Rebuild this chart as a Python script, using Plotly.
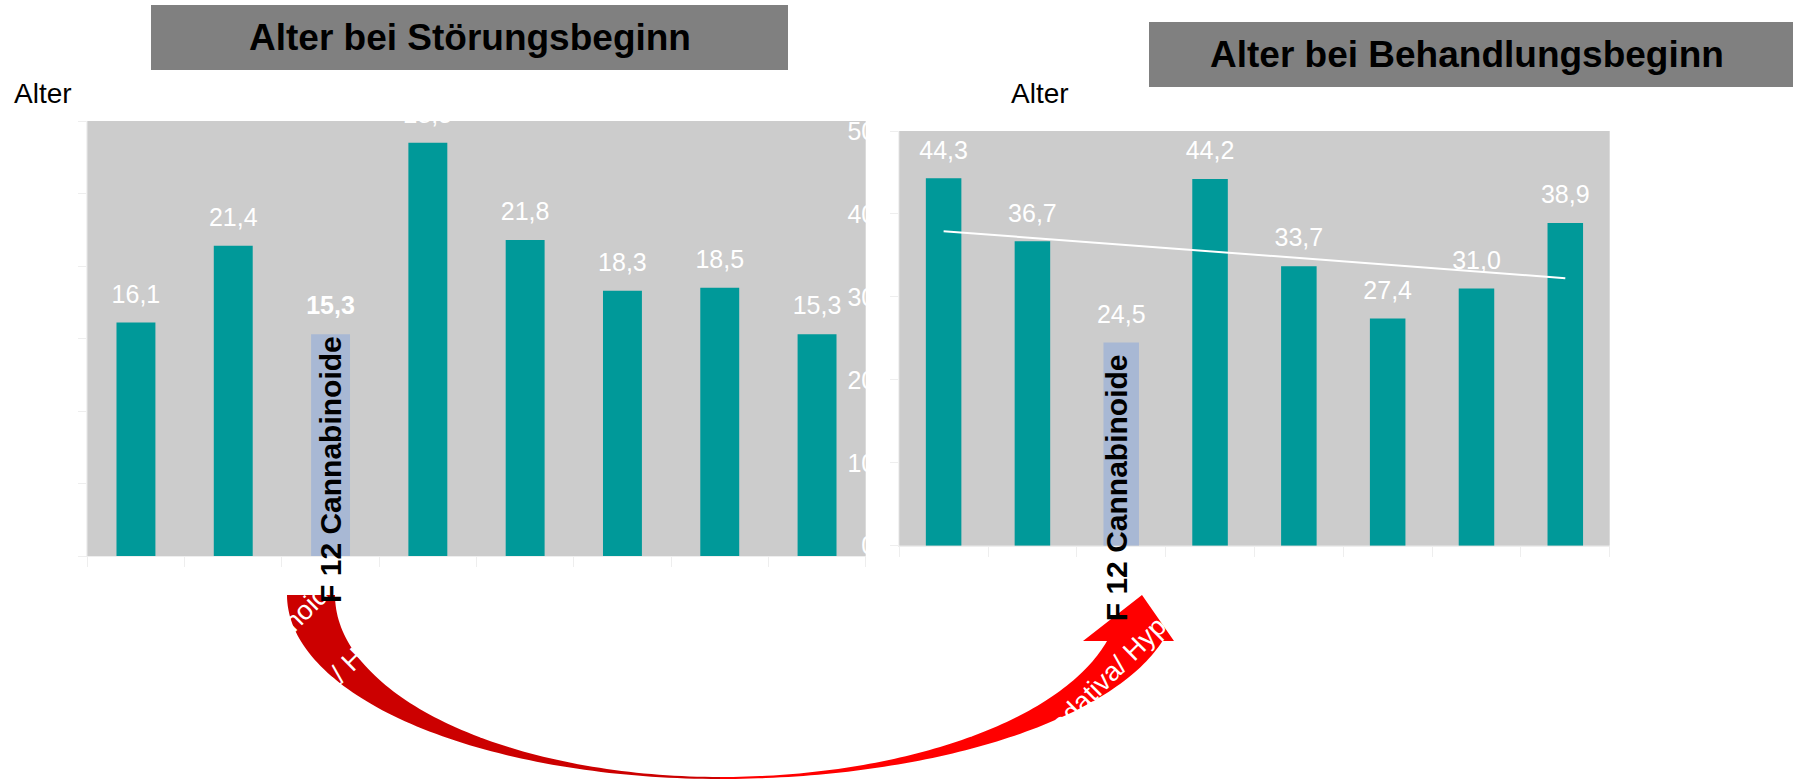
import numpy as np
import plotly.graph_objects as go

# ---------------------------------------------------------------- data
categories = [
    "F 10 Alkohol",
    "F 11 Opioide",
    "F 12 Cannabinoide",
    "F 13 Sedativa/ Hypnotika",
    "F 14 Kokain",
    "F 15 Stimulanzien",
    "F 16 Halluzinogene",
    "F 17 Tabak",
]
highlight = "F 12 Cannabinoide"

onset_age = [16.1, 21.4, 15.3, 28.5, 21.8, 18.3, 18.5, 15.3]        # Alter bei Störungsbeginn
treatment_age = [44.3, 36.7, 24.5, 44.2, 33.7, 27.4, 31.0, 38.9]    # Alter bei Behandlungsbeginn

left_ticks = [0, 5, 10, 15, 20, 25, 30]
right_ticks = [0, 10, 20, 30, 40, 50]

title_left = "Alter bei Störungsbeginn"
title_right = "Alter bei Behandlungsbeginn"
axis_caption = "Alter"

# ---------------------------------------------------------------- style
W, H = 1793, 780
FONT = "Liberation Sans, Arial, Helvetica, sans-serif"
TEAL = "#009999"
HILITE = "#A8B8D4"
PLOT_BG = "#CCCCCC"
TITLE_BG = "#808080"
FAINT = "#EEEEEE"

# plot areas in pixels: (left, right, top, bottom)
LEFT_AREA = (87.3, 865.7, 121.0, 556.0)
RIGHT_AREA = (899.2, 1609.7, 131.0, 545.7)
LABEL_GAP_PX = 26


def fx(px):
    return px / W


def fy(py):
    return 1 - py / H


def fmt(v):
    return f"{v:.1f}".replace(".", ",")


fig = go.Figure()


def add_chart(values, xa, ya, area, yrange, bold_highlight):
    colors = [HILITE if c == highlight else TEAL for c in categories]
    fig.add_trace(go.Bar(
        x=categories, y=values, marker=dict(color=colors, line=dict(width=0)),
        xaxis=xa, yaxis=ya, hoverinfo="skip",
    ))
    units_per_px = (yrange[1] - yrange[0]) / (area[3] - area[2])
    texts = [f"<b>{fmt(v)}</b>" if (c == highlight and bold_highlight) else fmt(v)
             for c, v in zip(categories, values)]
    fig.add_trace(go.Scatter(
        x=categories, y=[v + LABEL_GAP_PX * units_per_px for v in values],
        mode="text", text=texts, textposition="middle center",
        textfont=dict(family=FONT, size=25, color="white"),
        cliponaxis=True, xaxis=xa, yaxis=ya, hoverinfo="skip",
    ))


add_chart(onset_age, "x", "y", LEFT_AREA, (0, 30), True)
add_chart(treatment_age, "x2", "y2", RIGHT_AREA, (0, 50), False)

# linear trend over the treatment ages
pos = np.arange(len(treatment_age))
slope, intercept = np.polyfit(pos, treatment_age, 1)
fig.add_trace(go.Scatter(
    x=[categories[0], categories[-1]],
    y=[intercept, intercept + slope * pos[-1]],
    mode="lines", line=dict(color="white", width=2),
    xaxis="x2", yaxis="y2", hoverinfo="skip",
))


def xaxis(area, anchor):
    return dict(
        domain=[fx(area[0]), fx(area[1])], type="category",
        range=[-0.5, len(categories) - 0.5], anchor=anchor, automargin=False,
        showticklabels=False, ticks="outside", tickson="boundaries",
        ticklen=10, tickcolor=FAINT, showline=True, linecolor=FAINT,
        showgrid=False, zeroline=False, fixedrange=True,
    )


def yaxis(area, rng, ticks, anchor):
    return dict(
        domain=[fy(area[3]), fy(area[2])], range=list(rng), tickvals=ticks,
        ticks="outside", ticklen=8, tickcolor=FAINT, showline=True,
        linecolor="#F2F2F2", showgrid=False, zeroline=False, automargin=False,
        tickfont=dict(family=FONT, size=25, color="white"),
        ticklabelstandoff=10, anchor=anchor, fixedrange=True,
    )


shapes = []
annotations = []

# title boxes
for (x0, x1, y0, y1), text, cx, cy in [
    ((151, 788, 5, 70), title_left, 469.5, 37.5),
    ((1149, 1800, 22, 87), title_right, 1467, 55),
]:
    shapes.append(dict(type="rect", xref="paper", yref="paper",
                       x0=fx(x0), x1=fx(x1), y0=fy(y1), y1=fy(y0),
                       fillcolor=TITLE_BG, line=dict(width=0), layer="above"))
    annotations.append(dict(text=f"<b>{text}</b>", xref="paper", yref="paper",
                            x=fx(cx), y=fy(cy), xanchor="center", yanchor="middle",
                            showarrow=False, font=dict(family=FONT, size=37, color="black")))

for x in (11.5, 1009.3):
    annotations.append(dict(text=axis_caption, xref="paper", yref="paper",
                            x=fx(x), y=fy(93.3), xanchor="left", yanchor="middle",
                            showarrow=False, font=dict(family=FONT, size=28, color="black")))

# curved arrow linking the two charts
ARROW_CX, ARROW_TOP = 720.0, 595.0
INNER_B, OUTER_B = 182.0, 184.0
INNER_A_L, OUTER_A_L = 385.0, 433.0
INNER_A_R, OUTER_A_R = 400.0, 457.0
HEAD_BASE_Y, HEAD_TIP, HEAD_L, HEAD_R = 641.0, (1142.0, 595.0), 1083.0, 1174.0


def path(points):
    return "M " + " L ".join(f"{fx(x):.5f},{fy(y):.5f}" for x, y in points) + " Z"


t = np.linspace(0, np.pi / 2, 80)
left_pts = [(ARROW_CX - OUTER_A_L * np.cos(a), ARROW_TOP + OUTER_B * np.sin(a)) for a in t]
left_pts += [(ARROW_CX - INNER_A_L * np.cos(a), ARROW_TOP + INNER_B * np.sin(a)) for a in t[::-1]]

t_o = np.linspace(np.pi / 2, np.arcsin((HEAD_BASE_Y - ARROW_TOP) / OUTER_B), 80)
t_i = np.linspace(np.arcsin((HEAD_BASE_Y - ARROW_TOP) / INNER_B), np.pi / 2, 80)
right_pts = [(ARROW_CX + OUTER_A_R * np.cos(a), ARROW_TOP + OUTER_B * np.sin(a)) for a in t_o]
right_pts += [(HEAD_R, HEAD_BASE_Y), HEAD_TIP, (HEAD_L, HEAD_BASE_Y)]
right_pts += [(ARROW_CX + INNER_A_R * np.cos(a), ARROW_TOP + INNER_B * np.sin(a)) for a in t_i]

shapes.append(dict(type="path", xref="paper", yref="paper", path=path(left_pts),
                   fillcolor="#CC0000", line=dict(width=0), layer="above"))
shapes.append(dict(type="path", xref="paper", yref="paper", path=path(right_pts),
                   fillcolor="#FF0000", line=dict(width=0), layer="above"))

# category names, white and slanted under each axis
for xa, area in (("x", LEFT_AREA), ("x2", RIGHT_AREA)):
    for c in categories:
        annotations.append(dict(text=c, xref=xa, yref="paper", x=c, y=fy(area[3] + 11),
                                xshift=17, xanchor="right", yanchor="top", textangle=-45,
                                showarrow=False, font=dict(family=FONT, size=27, color="white")))

# highlighted category name, upright on its bar
for xa, dx, cy in (("x", -0.6, 469.0), ("x2", -5.0, 488.0)):
    annotations.append(dict(text=f"<b>{highlight}</b>", xref=xa, yref="paper", x=highlight,
                            y=fy(cy), xshift=dx, xanchor="center", yanchor="middle",
                            textangle=-90, showarrow=False,
                            font=dict(family=FONT, size=30, color="black")))

fig.update_layout(
    width=W, height=H, autosize=False,
    margin=dict(l=0, r=0, t=0, b=0, pad=0, autoexpand=False),
    paper_bgcolor="white", plot_bgcolor=PLOT_BG,
    showlegend=False, bargap=0.6,
    xaxis=xaxis(LEFT_AREA, "y"), yaxis=yaxis(LEFT_AREA, (0, 30), left_ticks, "x"),
    xaxis2=xaxis(RIGHT_AREA, "y2"), yaxis2=yaxis(RIGHT_AREA, (0, 50), right_ticks, "x2"),
    shapes=shapes, annotations=annotations,
)

fig.write_html("out.html", config={"displayModeBar": False})
